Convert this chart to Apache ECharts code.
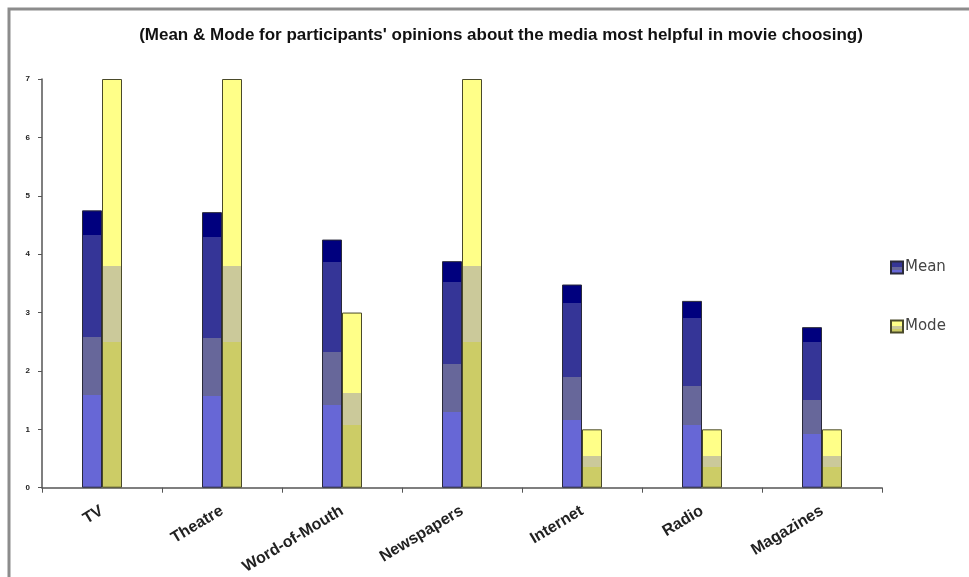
<!DOCTYPE html>
<html>
<head>
<meta charset="utf-8">
<script src="https://cdn.jsdelivr.net/npm/echarts@6/dist/echarts.min.js"></script>
<style>html,body{margin:0;padding:0;background:#fff}#c{width:969px;height:577px}</style>
</head>
<body>
<div id="c"></div>
<script>
const categories = ['TV', 'Theatre', 'Word-of-Mouth', 'Newspapers', 'Internet', 'Radio', 'Magazines'];
const meanValues = [4.75, 4.72, 4.25, 3.88, 3.48, 3.2, 2.75];
const modeValues = [7, 7, 3, 7, 1, 1, 1];
const yTickLabels = ['0', '1', '2', '3', '4', '5', '6', '7'];
const titleText = "(Mean & Mode for participants' opinions about the media most helpful in movie choosing)";

function bands(stops) {
  const cs = [];
  let prev = 0;
  stops.forEach(([end, col]) => {
    cs.push({ offset: prev, color: col });
    cs.push({ offset: end, color: col });
    prev = end;
  });
  return new echarts.graphic.LinearGradient(0, 1, 0, 0, cs);
}
const meanFill = bands([[0.334, '#6767d6'], [0.545, '#67679a'], [0.91, '#353597'], [1, '#00007e']]);
const modeFill = bands([[0.357, '#cccc66'], [0.543, '#cbc99a'], [1, '#ffff88']]);

const chart = echarts.init(document.getElementById('c'), null, { renderer: 'canvas' });
chart.setOption({
  animation: false,
  backgroundColor: '#ffffff',
  title: {
    text: titleText,
    left: 496, top: 22, textAlign: 'center',
    textStyle: { fontFamily: 'Liberation Sans, Arial, sans-serif', fontWeight: 'bold', fontSize: 17, color: '#111' }
  },
  legend: {
    orient: 'vertical', left: 885, top: 255, itemGap: 44,
    itemWidth: 12, itemHeight: 12, icon: 'rect',
    textStyle: { fontFamily: 'DejaVu Sans, sans-serif', fontSize: 15, color: '#444', padding: [0, 0, 0, -3] },
    data: ['Mean', 'Mode']
  },
  grid: { left: 42, right: 87, top: 79, bottom: 88, containLabel: false },
  xAxis: {
    type: 'category', data: categories,
    axisLine: { lineStyle: { color: '#555', width: 1.5 } },
    axisTick: { show: true, length: 5, lineStyle: { color: '#555' } },
    axisLabel: {
      rotate: 31, margin: 22, interval: 0,
      fontFamily: 'Liberation Sans, Arial, sans-serif', fontWeight: 'bold', fontSize: 16, color: '#222'
    }
  },
  yAxis: {
    type: 'value', min: 0, max: 7, interval: 1,
    splitLine: { show: false },
    axisLine: { show: true, lineStyle: { color: '#555', width: 1.5 } },
    axisTick: { show: true, length: 4, lineStyle: { color: '#555' } },
    axisLabel: {
      margin: 12,
      formatter: (v) => yTickLabels[v] !== undefined ? yTickLabels[v] : '',
      fontFamily: 'Liberation Sans, Arial, sans-serif', fontWeight: 'bold', fontSize: 8, color: '#222'
    }
  },
  series: [
    {
      name: 'Mean', type: 'bar', data: meanValues, barWidth: 20, barGap: '0%',
      itemStyle: { color: meanFill, borderColor: '#2a2a3a', borderWidth: 1 }
    },
    {
      name: 'Mode', type: 'bar', data: modeValues, barWidth: 20, barGap: '0%',
      itemStyle: { color: modeFill, borderColor: '#4a4a2a', borderWidth: 1 }
    }
  ],
  graphic: [
    { type: 'rect', shape: { x: 9, y: 9, width: 1100, height: 700 }, style: { fill: null, stroke: '#8c8c8c', lineWidth: 3 }, silent: true }
  ]
});
</script>
</body>
</html>
